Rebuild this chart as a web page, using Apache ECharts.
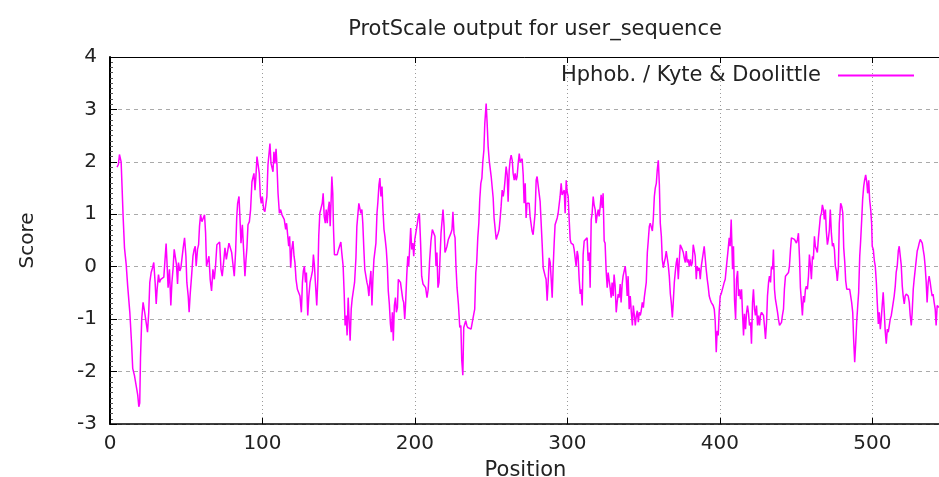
<!DOCTYPE html>
<html>
<head>
<meta charset="utf-8">
<script src="https://cdn.jsdelivr.net/npm/echarts@6/dist/echarts.min.js"></script>
<style>
html,body{margin:0;padding:0;background:#fff;}
#chart{width:939px;height:477px;}
</style>
</head>
<body>
<div id="chart"></div>
<script>
const chartTitle = 'ProtScale output for user_sequence';
const seriesName = 'Hphob. / Kyte & Doolittle';
const xAxisName = 'Position';
const yAxisName = 'Score';
const xTickValues = [0, 100, 200, 300, 400, 500];
const yTickValues = [-3, -2, -1, 0, 1, 2, 3, 4];

const positions = [
  4.6,5.5,6.2,7.3,7.9,8.6,9.5,10.6,11.6,13.0,14.1,14.9,16.0,17.1,18.2,18.9,19.5,20.0,20.8,21.7,22.6,23.7,24.6,25.4,26.1,27.0,27.9,28.7,29.6,30.3,30.9,31.8,32.5,33.3,34.2,35.3,36.2,36.8,37.5,38.1,39.0,39.9,40.6,41.4,42.1,43.0,43.6,44.3,44.9,45.8,46.5,47.4,48.0,48.9,49.8,50.4,51.3,51.9,52.6,53.5,54.4,55.2,55.9,56.5,57.4,58.1,58.7,59.4,60.3,61.2,62.0,62.7,63.3,
  64.9,65.7,66.6,67.5,68.4,69.2,70.1,71.0,71.9,72.8,73.6,74.5,75.4,76.3,77.2,78.0,78.9,79.8,80.7,81.5,82.4,83.1,83.7,84.6,85.2,85.9,86.8,87.6,88.5,89.2,89.8,90.5,91.4,92.2,93.1,93.8,94.4,95.1,95.7,96.4,97.3,97.9,98.6,99.2,99.9,100.8,101.6,102.3,102.9,103.6,104.3,104.9,105.6,106.2,106.9,107.5,108.2,108.9,109.5,110.2,111.1,111.9,112.8,113.6,114.3,115.2,115.8,116.5,117.2,117.8,118.5,119.2,120.0,120.7,121.3,122.0,122.9,123.7,124.6,125.5,126.2,126.8,127.5,128.2,128.8,129.7,130.4,131.2,132.1,132.8,133.4,
  134.1,134.7,135.6,136.3,136.9,137.6,138.5,139.2,139.8,140.5,141.2,141.8,142.5,143.1,143.8,144.4,145.1,145.5,146.1,146.6,147.2,148.1,149.0,149.9,150.7,151.4,152.0,152.9,153.6,154.2,154.9,155.5,156.2,156.8,157.5,158.2,158.8,159.7,160.4,161.3,161.9,162.6,163.2,163.9,164.5,165.2,165.8,166.5,167.1,167.8,168.5,169.1,169.8,170.4,171.1,171.8,172.4,173.1,173.7,174.4,175.1,175.7,176.4,177.0,177.7,178.4,179.0,179.7,180.3,181.2,181.9,182.5,183.2,183.9,184.5,185.2,185.8,186.5,187.2,187.8,188.5,189.1,189.8,190.5,191.3,192.0,192.6,193.3,193.9,194.6,195.3,195.9,196.6,197.2,197.9,198.6,199.2,199.9,200.7,201.6,202.2,202.9,
  203.7,204.4,205.3,206.1,207.0,207.9,208.7,209.6,210.5,211.4,212.3,213.1,213.8,214.4,215.1,215.8,216.4,217.1,217.7,218.4,219.1,219.7,220.4,221.0,221.9,222.7,223.6,224.3,224.9,225.6,226.3,226.9,227.6,228.5,229.4,230.1,230.7,231.4,232.0,232.7,233.3,234.0,234.6,235.7,236.8,237.9,238.6,239.2,239.9,240.5,241.2,241.9,242.5,243.2,243.9,244.5,245.2,245.8,246.3,246.7,247.4,248.0,248.7,249.3,250.0,250.6,251.3,251.9,252.6,253.3,253.9,254.6,255.2,255.9,256.5,257.2,257.9,258.5,259.2,259.8,260.5,261.1,261.8,262.4,263.1,263.8,264.4,265.1,265.7,266.4,267.0,267.7,268.4,269.0,269.7,270.3,271.0,271.6,272.3,
  272.9,273.5,274.2,274.9,275.5,276.2,276.8,277.5,278.2,278.8,279.5,280.1,280.8,281.4,282.1,282.8,283.4,284.1,284.7,285.4,286.0,286.7,287.4,288.0,288.7,289.3,290.0,290.6,291.3,291.9,292.6,293.3,293.9,294.6,295.2,295.9,296.5,297.2,297.9,298.5,299.2,299.8,300.5,301.1,301.8,302.4,303.1,303.8,304.4,305.1,305.7,306.4,307.0,307.7,308.4,309.0,309.7,310.3,311.0,311.6,312.3,312.9,313.6,314.3,314.9,315.6,316.2,316.9,317.5,318.2,318.8,319.5,320.2,320.8,321.5,322.1,322.8,323.4,324.1,324.7,325.4,326.1,326.7,327.4,328.0,328.7,329.3,330.0,330.6,331.3,332.0,332.6,333.3,333.9,334.6,335.2,335.9,336.5,337.2,337.9,338.5,339.2,339.8,340.5,
  341.2,341.9,342.6,343.2,343.9,344.5,345.2,345.8,346.5,347.1,347.8,348.4,349.1,349.8,350.4,351.1,351.7,352.4,353.0,353.7,354.3,355.0,355.7,356.3,357.0,357.6,358.3,358.9,359.6,360.3,360.9,361.6,362.2,362.9,363.5,364.2,364.8,365.5,366.1,366.8,367.5,368.1,368.8,369.4,370.1,370.7,371.4,372.0,372.7,373.4,374.0,374.7,375.3,376.0,376.6,377.3,377.9,378.6,379.2,379.9,380.6,381.2,381.9,382.5,383.2,383.8,384.5,385.1,385.8,386.4,387.1,387.8,388.4,389.1,389.7,390.4,391.0,391.7,392.3,393.0,393.6,394.3,395.0,395.6,396.3,396.9,397.6,398.2,398.9,399.5,400.2,400.8,401.5,402.2,402.8,403.5,404.1,404.8,405.4,406.1,406.7,407.4,
  408.3,408.9,409.6,410.3,410.9,411.6,412.2,412.9,413.5,414.2,414.8,415.5,416.1,416.8,417.5,418.1,418.8,419.4,420.1,420.7,421.4,422.0,422.7,423.3,424.0,424.7,425.3,426.0,426.6,427.3,427.9,428.6,429.2,429.9,430.6,431.2,431.9,432.5,433.2,433.8,434.5,435.1,435.8,436.4,437.1,437.8,438.4,439.1,439.7,440.4,441.0,441.7,442.3,443.0,443.6,444.3,445.0,445.6,446.3,446.9,447.6,448.2,448.9,449.5,450.2,450.9,451.5,452.2,452.8,453.5,454.1,454.8,455.4,456.1,456.7,457.4,458.1,458.7,459.4,460.0,460.7,461.3,462.0,462.6,463.3,463.9,464.6,465.3,465.9,466.6,467.2,467.9,468.5,469.2,469.8,470.5,471.1,471.8,472.4,473.1,473.8,474.4,475.1,475.7,476.4,477.0,477.7,478.3,
  479.2,479.9,480.6,481.2,481.9,482.5,483.2,483.8,484.5,485.1,485.8,486.4,487.1,487.7,488.4,489.1,489.7,490.4,491.0,491.7,492.3,493.0,493.6,494.3,494.9,495.6,496.3,496.9,497.6,498.2,498.9,499.5,499.9,500.6,501.3,501.9,502.6,503.2,503.9,504.5,505.2,505.8,506.5,507.1,507.8,508.4,509.1,509.8,510.4,511.1,511.7,512.4,513.0,513.7,514.3,515.0,515.6,516.3,517.0,517.6,518.3,518.9,519.6,520.2,520.9,521.5,522.2,522.8,523.5,524.2,524.8,525.5,526.1,526.8,527.4,528.1,528.7,529.4,530.0,530.7,531.4,532.0,532.7,533.3,534.0,534.6,535.3,535.9,536.6,537.2,537.9,538.5,539.2,539.8,540.5,541.2,541.8,542.5,543.1,543.8
];

const scores = [
  1.9,1.95,2.14,2.0,1.53,0.96,0.36,0.05,-0.37,-0.87,-1.44,-1.94,-2.07,-2.26,-2.45,-2.67,-2.6,-1.75,-1.0,-0.68,-0.84,-1.06,-1.25,-0.87,-0.3,-0.11,-0.02,0.08,-0.3,-0.71,-0.43,-0.15,-0.3,-0.24,-0.21,-0.2,-0.18,0.44,0.01,-0.4,-0.05,-0.74,-0.3,-0.02,0.33,0.31,0.04,-0.33,0.08,-0.08,-0.02,-0.05,0.36,0.55,0.2,-0.3,-0.56,-0.87,-0.52,-0.18,0.2,0.33,0.39,0.01,0.33,0.42,0.77,0.99,0.86,0.93,0.99,0.64,0.01,
  0.2,-0.24,-0.46,-0.05,-0.24,0.01,0.42,0.45,0.47,-0.05,-0.18,0.08,0.36,0.14,0.3,0.45,0.47,0.27,0.27,-0.18,0.3,0.93,1.21,1.34,0.96,0.45,0.8,0.33,-0.18,0.14,0.36,0.8,0.86,1.09,1.62,1.65,1.78,1.46,1.72,2.1,2.13,1.78,1.34,1.21,1.34,1.09,1.05,1.21,1.34,1.94,1.97,2.35,1.97,1.94,1.81,2.19,1.97,2.25,1.94,1.4,1.02,1.09,0.99,1.02,0.9,0.71,0.83,0.61,0.39,0.58,-0.02,0.33,0.49,0.2,0.08,-0.24,-0.43,-0.4,-0.56,-0.87,-0.3,-0.08,0.01,-0.3,-0.11,-0.93,-0.56,-0.3,-0.18,-0.08,0.23,
  0.01,-0.3,-0.74,-0.24,0.58,1.02,1.02,1.21,1.4,0.96,0.83,1.09,0.83,1.09,1.24,0.77,1.34,1.72,1.4,0.71,0.23,0.2,0.23,0.33,0.33,0.47,0.27,0.01,-0.52,-1.12,-0.93,-1.31,-0.59,-1.0,-1.41,-0.81,-0.62,-0.62,-0.3,0.17,0.77,0.8,1.21,1.21,1.02,1.09,0.83,0.33,-0.05,-0.08,-0.3,-0.37,-0.56,-0.3,-0.08,-0.74,-0.24,0.14,0.14,0.45,1.02,1.24,1.56,1.69,1.34,1.53,1.09,0.71,0.58,0.33,0.01,-0.46,-0.71,-1.09,-1.25,-0.87,-1.41,-0.74,-0.59,-0.87,-0.78,-0.24,-0.27,-0.3,-0.33,-0.62,-0.68,-1.0,-0.68,-0.18,0.2,0.01,0.39,0.74,0.33,0.45,0.2,0.52,0.55,0.83,0.96,1.02,
  0.45,-0.18,-0.33,-0.33,-0.4,-0.59,-0.43,0.11,0.49,0.71,0.74,0.58,0.01,0.27,-0.4,-0.3,0.14,0.64,0.64,1.09,0.77,0.27,0.33,0.39,0.52,0.55,0.64,0.71,1.05,0.64,0.55,0.01,-0.4,-0.71,-1.16,-1.12,-1.79,-2.07,-1.16,-1.16,-1.03,-1.12,-1.16,-1.17,-1.19,-1.19,-0.9,-0.81,-0.11,0.08,0.55,0.83,1.28,1.59,1.69,2.0,2.22,2.73,2.76,3.11,2.7,2.29,2.03,2.0,1.72,1.53,1.31,0.93,0.9,0.52,0.58,0.64,0.71,0.93,1.15,1.46,1.34,1.46,1.69,1.91,1.75,1.24,1.84,2.03,2.13,2.03,1.78,1.65,1.78,1.65,1.72,1.97,2.16,2.0,1.97,2.06,1.75,1.21,1.59,
  0.93,1.21,1.18,1.21,0.96,0.96,0.68,0.61,0.83,1.02,1.65,1.72,1.75,1.72,1.24,1.21,0.45,-0.02,0.01,-0.18,-0.24,-0.65,-0.27,0.17,0.08,-0.21,-0.59,-0.05,0.45,0.8,0.83,0.93,1.02,0.99,1.34,1.59,1.37,1.34,1.46,1.02,1.65,1.43,1.34,0.93,0.52,0.45,0.42,0.42,0.33,0.33,0.01,0.3,0.2,-0.24,-0.52,-0.43,-0.74,0.23,0.49,0.52,0.52,0.55,0.11,0.27,-0.4,0.9,1.02,1.34,1.18,1.09,0.83,0.99,1.09,0.96,1.15,1.37,1.12,1.4,0.49,0.45,-0.08,-0.4,-0.11,-0.27,-0.4,-0.59,-0.3,-0.56,-0.15,-0.37,-0.87,-0.68,-0.52,-0.59,-0.33,-0.68,-0.33,-0.18,-0.15,0.01,-0.18,-0.56,-0.18,-0.81,
  -0.56,-0.87,-1.12,-0.74,-0.93,-1.12,-0.93,-0.84,-1.06,-0.87,-0.93,-0.84,-0.68,-0.78,-0.59,-0.56,-0.3,0.27,0.49,0.77,0.83,0.8,0.68,0.9,1.34,1.5,1.59,1.84,2.03,1.56,0.83,0.58,0.14,-0.02,0.08,0.17,0.3,0.27,0.04,-0.18,-0.52,-0.68,-0.97,-0.68,-0.3,-0.11,0.08,0.17,-0.24,0.14,0.42,0.45,0.33,0.27,0.17,0.08,0.3,0.08,0.14,0.01,0.14,0.01,0.08,0.42,0.45,0.2,-0.24,0.01,-0.08,-0.02,-0.24,0.01,-0.02,0.27,0.39,0.36,-0.05,-0.24,-0.37,-0.56,-0.62,-0.68,-0.71,-0.74,-0.81,-1.03,-1.63,-1.22,-1.31,-0.87,-0.56,-0.52,-0.49,-0.37,-0.3,-0.24,-0.05,-0.02,0.33,0.55,0.39,0.9,
  -0.05,0.39,-0.65,-1.0,-0.24,-0.08,-0.56,-0.43,-0.62,-0.43,-0.87,-1.31,-0.9,-1.19,-0.87,-0.74,-0.9,-1.12,-1.06,-1.47,-0.68,-0.43,-0.81,-0.93,-0.74,-1.12,-0.93,-1.12,-0.93,-0.87,-0.87,-0.93,-1.12,-1.38,-1.06,-0.56,-0.3,-0.18,-0.3,0.01,-0.05,0.33,-0.43,-0.62,-0.74,-0.87,-1.0,-1.12,-1.12,-1.06,-0.93,-0.81,-0.43,-0.18,-0.15,-0.18,-0.11,0.01,0.33,0.55,0.58,0.55,0.52,0.49,0.45,0.52,0.64,0.17,-0.4,-0.68,-0.93,-0.56,-0.68,-0.43,-0.37,-0.43,-0.18,0.23,0.01,-0.24,0.2,0.14,0.58,0.39,0.42,0.27,0.55,0.58,0.96,1.02,1.18,1.09,0.9,1.09,0.68,0.42,0.52,0.71,1.09,0.64,0.39,0.45,0.33,0.01,-0.08,-0.27,-0.02,0.83,
  1.21,1.15,1.02,0.36,0.08,-0.27,-0.43,-0.43,-0.43,-0.43,-0.46,-0.68,-0.87,-1.38,-1.82,-1.44,-1.06,-0.74,-0.49,0.2,0.49,0.9,1.28,1.53,1.65,1.75,1.62,1.4,1.65,1.28,1.09,0.83,0.39,0.33,0.11,0.01,-0.3,-0.68,-1.09,-0.87,-1.19,-1.0,-0.71,-0.49,-0.87,-1.22,-1.47,-1.19,-1.25,-1.12,-1.0,-0.93,-0.93,-0.93,-0.56,-0.37,-0.11,0.01,0.3,0.39,0.2,0.04,-0.37,-0.56,-0.71,-0.56,-0.52,-0.52,-0.56,-0.68,-0.93,-1.12,-0.87,-0.43,-0.24,-0.05,0.11,0.3,0.36,0.45,0.52,0.49,0.45,0.33,0.2,0.01,-0.3,-0.68,-0.3,-0.18,-0.3,-0.43,-0.56,-0.52,-0.68,-0.81,-1.12,-0.74,-0.74,-0.78
];

if (positions.length !== scores.length) {
  console.error('length mismatch', positions.length, scores.length);
}

const FONT = 'DejaVu Sans';
const TEXT = '#222';
const LINE = '#ff00ff';

const chart = echarts.init(document.getElementById('chart'), null, { renderer: 'canvas' });
chart.setOption({
  backgroundColor: '#fff',
  animation: false,
  title: {
    text: chartTitle,
    left: 530,
    textAlign: 'center',
    top: 14,
    textStyle: { fontFamily: FONT, fontSize: 21, fontWeight: 'normal', color: TEXT }
  },
  legend: {
    data: [seriesName],
    right: 20,
    top: 60,
    align: 'right',
    icon: 'rect',
    itemWidth: 76,
    itemHeight: 2,
    textStyle: { fontFamily: FONT, fontSize: 21, color: TEXT, padding: [0, 12, 0, 0] }
  },
  grid: {
    left: 110, width: 831, top: 57, height: 367,
    show: false,
    containLabel: false,
    outerBoundsMode: 'none'
  },
  xAxis: [{
    type: 'value',
    min: 0, max: 545, interval: 100,
    position: 'bottom',
    name: xAxisName,
    nameLocation: 'middle',
    nameGap: 36,
    nameTextStyle: { fontFamily: FONT, fontSize: 21, color: TEXT },
    axisLine: { show: true, onZero: false, lineStyle: { color: '#000', width: 1.5 } },
    axisTick: { show: true, inside: true, length: 6, lineStyle: { color: '#000' } },
    axisLabel: {
      fontFamily: FONT, fontSize: 20, color: TEXT, margin: 10,
      formatter: v => (xTickValues.indexOf(v) >= 0 ? String(v) : '')
    },
    splitLine: { show: true, lineStyle: { color: '#9a9a9a', type: [1, 3], width: 1 } }
  }, {
    type: 'value',
    min: 0, max: 545, interval: 100,
    position: 'top',
    axisLine: { show: true, onZero: false, lineStyle: { color: '#000', width: 1 } },
    axisTick: { show: true, inside: true, length: 6, lineStyle: { color: '#000' } },
    axisLabel: { show: false },
    splitLine: { show: false }
  }],
  yAxis: {
    type: 'value',
    min: -3, max: 4, interval: 1,
    name: yAxisName,
    nameLocation: 'middle',
    nameRotate: 90,
    nameGap: 72,
    nameTextStyle: { fontFamily: FONT, fontSize: 20, color: TEXT },
    axisLine: { show: true, onZero: false, lineStyle: { color: '#000', width: 2 } },
    axisTick: { show: true, inside: true, length: 7, lineStyle: { color: '#000' } },
    minorTick: { show: true, splitNumber: 10, length: 3, lineStyle: { color: '#555' } },
    axisLabel: {
      fontFamily: FONT, fontSize: 20, color: TEXT, margin: 13,
      formatter: v => (yTickValues.indexOf(v) >= 0 ? String(v) : '')
    },
    splitLine: { show: true, lineStyle: { color: '#aaaaaa', type: [4, 4], width: 1 } }
  },
  series: [{
    name: seriesName,
    type: 'line',
    xAxisIndex: 0,
    showSymbol: false,
    symbol: 'none',
    itemStyle: { color: LINE },
    lineStyle: { color: LINE, width: 1.5 },
    data: positions.map((p, i) => [p, scores[i]])
  }]
});
</script>
</body>
</html>
